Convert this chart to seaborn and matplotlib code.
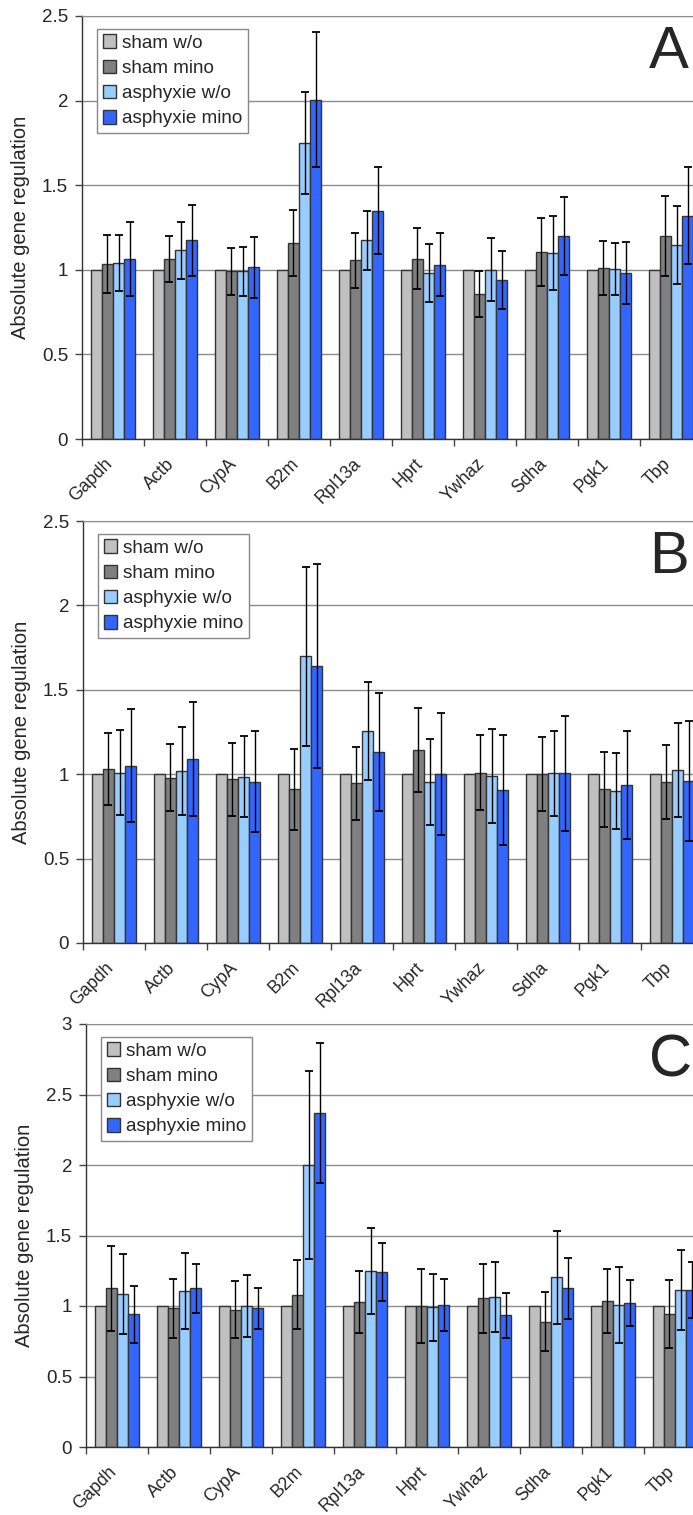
import numpy as np
import pandas as pd
import matplotlib
matplotlib.use('Agg')
import matplotlib.pyplot as plt
import seaborn as sns
from matplotlib.ticker import FormatStrFormatter, MultipleLocator, FixedLocator
from matplotlib.transforms import ScaledTranslation

genes = ['Gapdh', 'Actb', 'CypA', 'B2m', 'Rpl13a', 'Hprt', 'Ywhaz', 'Sdha', 'Pgk1', 'Tbp']
groups = ['sham w/o', 'sham mino', 'asphyxie w/o', 'asphyxie mino']
colors = ['#c0c0c0', '#808080', '#99ccff', '#3366ff']

sham_wo = [1.0, 1.0, 1.0, 1.0, 1.0, 1.0, 1.0, 1.0, 1.0, 1.0]

# panel A
a_sham_mino = [1.035, 1.065, 0.99, 1.16, 1.055, 1.065, 0.855, 1.105, 1.01, 1.2]
a_sham_mino_err = [0.17, 0.135, 0.14, 0.195, 0.16, 0.18, 0.135, 0.2, 0.16, 0.235]
a_asph_wo = [1.04, 1.115, 0.99, 1.75, 1.175, 0.98, 1.0, 1.1, 1.005, 1.145]
a_asph_wo_err = [0.165, 0.17, 0.145, 0.3, 0.175, 0.17, 0.185, 0.22, 0.155, 0.23]
a_asph_mino = [1.065, 1.175, 1.015, 2.005, 1.35, 1.03, 0.94, 1.2, 0.98, 1.32]
a_asph_mino_err = [0.22, 0.21, 0.18, 0.4, 0.255, 0.185, 0.17, 0.23, 0.185, 0.285]

# panel B
b_sham_mino = [1.03, 0.98, 0.97, 0.91, 0.945, 1.145, 1.01, 1.0, 0.91, 0.955]
b_sham_mino_err = [0.215, 0.2, 0.215, 0.24, 0.215, 0.25, 0.22, 0.22, 0.22, 0.22]
b_asph_wo = [1.01, 1.02, 0.985, 1.7, 1.255, 0.955, 0.99, 1.005, 0.9, 1.025]
b_asph_wo_err = [0.25, 0.26, 0.24, 0.53, 0.29, 0.255, 0.28, 0.25, 0.225, 0.28]
b_asph_mino = [1.05, 1.09, 0.955, 1.64, 1.13, 1.0, 0.905, 1.005, 0.935, 0.96]
b_asph_mino_err = [0.335, 0.34, 0.3, 0.605, 0.35, 0.36, 0.325, 0.34, 0.32, 0.355]

# panel C
c_sham_mino = [1.125, 0.985, 0.975, 1.08, 1.03, 1.0, 1.055, 0.89, 1.035, 0.945]
c_sham_mino_err = [0.3, 0.21, 0.205, 0.245, 0.22, 0.265, 0.245, 0.21, 0.23, 0.24]
c_asph_wo = [1.085, 1.105, 1.0, 2.0, 1.245, 0.99, 1.065, 1.205, 1.01, 1.115]
c_asph_wo_err = [0.285, 0.27, 0.22, 0.665, 0.305, 0.24, 0.25, 0.33, 0.27, 0.285]
c_asph_mino = [0.94, 1.125, 0.985, 2.37, 1.24, 1.01, 0.935, 1.125, 1.02, 1.115]
c_asph_mino_err = [0.2, 0.175, 0.145, 0.495, 0.205, 0.185, 0.16, 0.215, 0.165, 0.2]

sns.set_style('white')
plt.rcParams['font.family'] = ['Liberation Sans', 'DejaVu Sans']

W, H = 693, 1515


def draw_panel(fig, ax, values, errors, ymax, letter):
    df = pd.DataFrame({
        'gene': np.tile(genes, 4),
        'value': np.concatenate(values),
        'group': np.repeat(groups, len(genes)),
    })
    sns.barplot(data=df, x='gene', y='value', hue='group', hue_order=groups,
                palette=colors, saturation=1, width=0.725, gap=0, edgecolor='#333333',
                linewidth=1, errorbar=None, ax=ax, legend=False)

    for cont, err in zip(ax.containers, errors):
        if err is None:
            continue
        for bar, e in zip(cont.patches, err):
            ax.errorbar(bar.get_x() + bar.get_width() / 2, bar.get_height(), yerr=e,
                        fmt='none', ecolor='black', elinewidth=1, capsize=3, capthick=1.3,
                        zorder=5)

    ax.set_xlim(-0.5, len(genes) - 0.5)
    ax.set_ylim(0, ymax)
    ax.yaxis.set_major_locator(MultipleLocator(0.5))
    ax.yaxis.set_major_formatter(FormatStrFormatter('%g'))
    ax.grid(axis='y', color='#8c8c8c', linewidth=1)
    ax.set_axisbelow(True)

    ax.set_xticks(range(len(genes)))
    ax.set_xticklabels(genes, rotation=45, ha='right', va='center', rotation_mode='anchor')
    ax.xaxis.set_minor_locator(FixedLocator(np.arange(-0.5, len(genes), 1.0)))
    ax.tick_params(axis='x', which='major', length=0, pad=16, labelsize=12.8)
    ax.tick_params(axis='x', which='minor', length=5, width=1, color='#444444', bottom=True)
    ax.tick_params(axis='y', length=5, width=1, color='#444444', pad=5, labelsize=13.5, left=True)
    shift = ScaledTranslation(-3 / 100, 0, fig.dpi_scale_trans)
    for lab in ax.get_xticklabels():
        lab.set_transform(lab.get_transform() + shift)

    for s in ['left', 'bottom']:
        ax.spines[s].set_color('#333333')
        ax.spines[s].set_linewidth(1)
    ax.spines['right'].set_visible(False)
    ax.spines['top'].set_color('#8c8c8c')

    ax.set_xlabel('')
    ax.set_ylabel('Absolute gene regulation', fontsize=14.5)
    ax.yaxis.set_label_coords(-0.084, 0.5)

    leg = ax.legend(handles=ax.containers, labels=groups, loc='upper left',
                    bbox_to_anchor=(0.024, 0.97), borderaxespad=0, fontsize=13.6,
                    fancybox=False, framealpha=1, edgecolor='#888888',
                    handlelength=0.72, handleheight=0.72, handletextpad=0.3,
                    labelspacing=0.42, borderpad=0.3)
    leg.get_frame().set_linewidth(1)

    ax.text(0.978, 0.978, letter, transform=ax.transAxes, ha='right', va='top',
            fontsize=43)


fig = plt.figure(figsize=(W / 100, H / 100), dpi=100)

ax_a = fig.add_axes([82 / W, 1 - 439 / H, 620 / W, 423 / H])
draw_panel(fig, ax_a, [sham_wo, a_sham_mino, a_asph_wo, a_asph_mino],
           [None, a_sham_mino_err, a_asph_wo_err, a_asph_mino_err], 2.5, 'A')

ax_b = fig.add_axes([83 / W, 1 - 943 / H, 620 / W, 422 / H])
draw_panel(fig, ax_b, [sham_wo, b_sham_mino, b_asph_wo, b_asph_mino],
           [None, b_sham_mino_err, b_asph_wo_err, b_asph_mino_err], 2.5, 'B')

ax_c = fig.add_axes([86 / W, 1 - 1447 / H, 620 / W, 423 / H])
draw_panel(fig, ax_c, [sham_wo, c_sham_mino, c_asph_wo, c_asph_mino],
           [None, c_sham_mino_err, c_asph_wo_err, c_asph_mino_err], 3.0, 'C')

fig.savefig('out.png', dpi=100)
